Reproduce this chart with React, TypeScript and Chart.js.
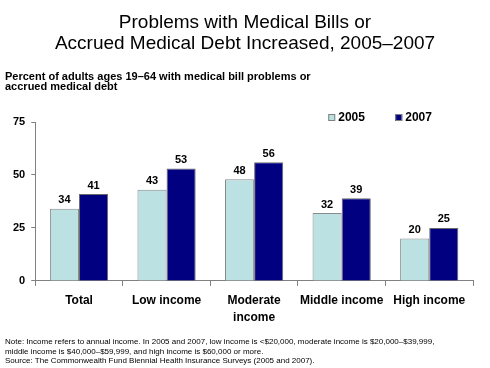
import React, { useEffect, useRef } from "react";
import { Chart, registerables } from "chart.js";

Chart.register(...registerables);

const categories: (string | string[])[] = ["Total", "Low income", ["Moderate", "income"], "Middle income", "High income"];
const series2005 = [34, 43, 48, 32, 20];
const series2007 = [41, 53, 56, 39, 25];
const seriesLabels = ["2005", "2007"];
const yTicks = [0, 25, 50, 75];
const titleLines = ["Problems with Medical Bills or", "Accrued Medical Debt Increased, 2005\u20132007"];
const subtitleLines = ["Percent of adults ages 19\u201364 with medical bill problems or", "accrued medical debt"];
const noteLines = [
  "Note: Income refers to annual income. In 2005 and 2007, low income is <$20,000, moderate income is $20,000\u2013$39,999,",
  "middle income is $40,000\u2013$59,999, and high income is $60,000 or more.",
  "Source: The Commonwealth Fund Biennial Health Insurance Surveys (2005 and 2007).",
];

const COLORS = ["#BCE1E3", "#000080"];
const FONT = "Arial, 'Liberation Sans', sans-serif";

const decorPlugin = {
  id: "decor",
  afterDraw(chart: any) {
    const ctx = chart.ctx;
    const W = chart.width;
    const ca = chart.chartArea;
    ctx.save();
    ctx.fillStyle = "#000";
    // title
    ctx.font = `19px ${FONT}`;
    ctx.textAlign = "center";
    ctx.textBaseline = "middle";
    titleLines.forEach((t, i) => ctx.fillText(t, W / 2, 23 + i * 20.5));
    // subtitle
    ctx.font = `bold 11px ${FONT}`;
    ctx.textAlign = "left";
    subtitleLines.forEach((t, i) => ctx.fillText(t, 5, 76.5 + i * 10.5));
    // footnote
    ctx.font = `8px ${FONT}`;
    noteLines.forEach((t, i) => ctx.fillText(t, 5, 341.5 + i * 9.8));
    // legend
    ctx.font = `bold 12px ${FONT}`;
    const lx = [ca.left + 293, ca.left + 360];
    seriesLabels.forEach((lab, i) => {
      ctx.fillStyle = COLORS[i];
      ctx.fillRect(lx[i], 114, 7, 7);
      ctx.strokeStyle = "#808080";
      ctx.lineWidth = 1;
      ctx.strokeRect(lx[i] + 0.5, 114.5, 6, 6);
      ctx.fillStyle = "#000";
      ctx.fillText(lab, lx[i] + 10, 118);
    });
    // data labels
    ctx.font = `bold 11px ${FONT}`;
    ctx.textAlign = "center";
    ctx.textBaseline = "bottom";
    chart.data.datasets.forEach((ds: any, di: number) => {
      const meta = chart.getDatasetMeta(di);
      meta.data.forEach((bar: any, i: number) => {
        ctx.fillText(String(ds.data[i]), bar.x, bar.y - 3);
      });
    });
    ctx.restore();
  },
};

export default function App() {
  const ref = useRef<HTMLCanvasElement>(null);
  useEffect(() => {
    if (!ref.current) return;
    const chart = new Chart(ref.current, {
      type: "bar",
      data: {
        labels: categories,
        datasets: [
          { label: seriesLabels[0], data: series2005, backgroundColor: COLORS[0], borderColor: "#8a8a8a", borderWidth: 1 },
          { label: seriesLabels[1], data: series2007, backgroundColor: COLORS[1], borderColor: "#6a6a6a", borderWidth: 1 },
        ],
      },
      options: {
        animation: false,
        responsive: false,
        maintainAspectRatio: false,
        layout: { padding: { top: 122, left: 7, right: 17, bottom: 35 } },
        plugins: { legend: { display: false }, title: { display: false }, tooltip: { enabled: false } },
        datasets: { bar: { categoryPercentage: 0.665, barPercentage: 1 } },
        scales: {
          x: {
            grid: { display: true, drawOnChartArea: false, drawTicks: true, tickLength: 5, offset: true, color: "#808080" },
            border: { display: true, color: "#808080" },
            ticks: { color: "#000", font: { family: FONT, size: 12, weight: "bold", lineHeight: 1.38 }, padding: 7, maxRotation: 0, autoSkip: false },
          },
          y: {
            min: 0,
            max: 75,
            afterBuildTicks: (axis: any) => { axis.ticks = yTicks.map((v) => ({ value: v })); },
            grid: { display: true, drawOnChartArea: false, drawTicks: true, tickLength: 4, color: "#808080" },
            border: { display: true, color: "#808080" },
            ticks: { color: "#000", font: { family: FONT, size: 11, weight: "bold" }, padding: 6 },
          },
        },
      },
      plugins: [decorPlugin],
    } as any);
    return () => chart.destroy();
  }, []);
  return (
    <div style={{ position: "absolute", left: 0, top: 0, width: 490, height: 368, background: "#fff" }}>
      <canvas ref={ref} width={490} height={368} style={{ display: "block", width: 490, height: 368 }} />
    </div>
  );
}
